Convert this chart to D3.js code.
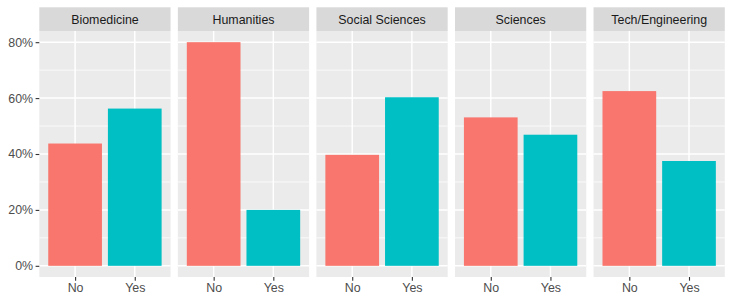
<!DOCTYPE html>
<html><head><meta charset="utf-8">
<script src="https://cdn.jsdelivr.net/npm/d3@7"></script>
<style>body{margin:0;background:#fff;} svg{display:block;} text{font-family:"Liberation Sans",Arial,Helvetica,sans-serif;}</style>
</head><body>
<svg id="c" width="732" height="303"></svg>
<script>
const fields = ["Biomedicine","Humanities","Social Sciences","Sciences","Tech/Engineering"];
const answers = ["No","Yes"];
const noValues  = [0.4375, 0.80, 0.397, 0.531, 0.625];
const yesValues = [0.5625, 0.20, 0.603, 0.469, 0.375];
const yTicks = [0, 0.2, 0.4, 0.6, 0.8];
const yMinor = [0.1, 0.3, 0.5, 0.7];
const colors = {No:"#F8766D", Yes:"#00BFC4"};

const FS = 12.4;
const svg = d3.select("#c");
const left = 39.3, right = 724.8, gap = 7.3;
const stripTop = 7.3, panelTop = 31, panelBottom = 277;
const pw = (right - left - gap*(fields.length-1))/fields.length;

const y = d3.scaleLinear().domain([-0.04, 0.84]).range([panelBottom, panelTop]);

fields.forEach((f, i) => {
  const x0 = left + i*(pw+gap);
  const g = svg.append("g").attr("transform", `translate(${x0},0)`);
  const x = d3.scaleLinear().domain([0.4, 2.6]).range([0, pw]);
  g.append("rect").attr("x",0).attr("y",panelTop).attr("width",pw).attr("height",panelBottom-panelTop).attr("fill","#EBEBEB");
  yMinor.forEach(v => g.append("line").attr("x1",0).attr("x2",pw).attr("y1",y(v)).attr("y2",y(v)).attr("stroke","#fff").attr("stroke-width",0.75));
  yTicks.forEach(v => g.append("line").attr("x1",0).attr("x2",pw).attr("y1",y(v)).attr("y2",y(v)).attr("stroke","#fff").attr("stroke-width",1.45));
  answers.forEach((a, j) => g.append("line").attr("x1",x(j+1)).attr("x2",x(j+1)).attr("y1",panelTop).attr("y2",panelBottom).attr("stroke","#fff").attr("stroke-width",1.45));
  const vals = [noValues[i], yesValues[i]];
  answers.forEach((a, j) => {
    g.append("rect").attr("x", x(j+1-0.45)).attr("width", x(j+1+0.45)-x(j+1-0.45))
      .attr("y", y(vals[j])).attr("height", y(0)-y(vals[j])).attr("fill", colors[a]);
  });
  g.append("rect").attr("x",0).attr("y",stripTop).attr("width",pw).attr("height",panelTop-stripTop).attr("fill","#D9D9D9");
  g.append("text").attr("x",pw/2).attr("y",(stripTop+panelTop)/2).attr("dy","0.36em").attr("text-anchor","middle")
    .attr("font-size",FS).attr("fill","#1A1A1A").text(f);
  const xa = g.append("g").attr("transform",`translate(0,${panelBottom})`)
    .call(d3.axisBottom(x).tickValues([1,2]).tickFormat(d => answers[d-1]).tickSize(3.7).tickPadding(2.5));
  xa.select(".domain").remove();
  xa.selectAll("line").attr("stroke","#333333").attr("stroke-width",1.1);
  xa.selectAll("text").attr("font-size",FS).attr("fill","#4D4D4D").attr("font-family","Liberation Sans, Arial, sans-serif");
  if (i === 0) {
    const ya = svg.append("g").attr("transform",`translate(${left},0)`)
      .call(d3.axisLeft(y).tickValues(yTicks).tickFormat(d3.format(".0%")).tickSize(3.7).tickPadding(2.5));
    ya.select(".domain").remove();
    ya.selectAll("line").attr("stroke","#333333").attr("stroke-width",1.1);
    ya.selectAll("text").attr("font-size",FS).attr("fill","#4D4D4D").attr("font-family","Liberation Sans, Arial, sans-serif");
  }
});
</script>
</body></html>
